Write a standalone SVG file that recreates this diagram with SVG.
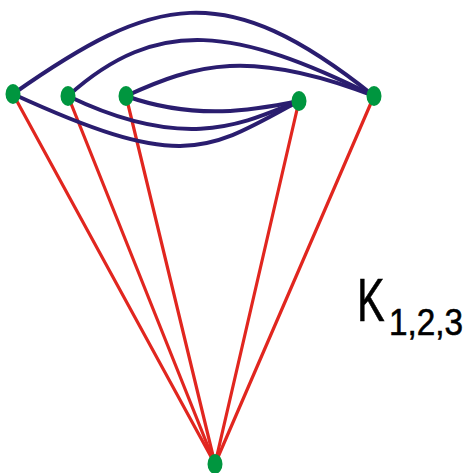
<svg xmlns="http://www.w3.org/2000/svg" width="469" height="473" viewBox="0 0 469 473">
<style>
.blue{fill:none;stroke:#2a1d6f;stroke-width:4;stroke-linecap:round}
.red{stroke:#e1261f;stroke-width:3.2;stroke-linecap:round}
.node{fill:#00963f}
.lbl{font-family:"Liberation Sans",Arial,sans-serif;fill:#000;stroke:#000;stroke-width:0.6}
</style>
<rect width="469" height="473" fill="#fff"/>
<g id="connectors">
<line class="red" x1="13" y1="94" x2="215" y2="464"/>
<line class="red" x1="68" y1="96" x2="215" y2="464"/>
<line class="red" x1="126" y1="96" x2="215" y2="464"/>
<line class="red" x1="299" y1="101" x2="215" y2="464"/>
<line class="red" x1="374" y1="96" x2="215" y2="464"/>
<path class="blue" d="M13,94 C154,-5 224,-24 374,96"/>
<path class="blue" d="M68,96 C158,15 237,28 374,96"/>
<path class="blue" d="M126,96 C196,64 250,48 374,96"/>
<path class="blue" d="M13,94 C183,172 206,152 299,101"/>
<path class="blue" d="M68,96 C188,154 246,122 299,101"/>
<path class="blue" d="M126,96 C196,121 255,110 299,101"/>
</g>
<g id="n1"><ellipse class="node" cx="13" cy="94" rx="7.5" ry="10"/></g>
<g id="n2"><ellipse class="node" cx="68" cy="96" rx="7.5" ry="10"/></g>
<g id="n3"><ellipse class="node" cx="126" cy="96" rx="7.5" ry="10"/></g>
<g id="n4"><ellipse class="node" cx="299" cy="101" rx="7.5" ry="10"/></g>
<g id="n5"><ellipse class="node" cx="374" cy="96" rx="7.5" ry="10"/></g>
<g id="n6"><ellipse class="node" cx="215" cy="464" rx="7.5" ry="10"/></g>
<g id="label">
<text class="lbl" font-size="61" transform="translate(357,321) scale(0.68,1)">K</text>
<text class="lbl" font-size="37" transform="translate(389,335) scale(0.9,1)">1,2,3</text>
</g>
</svg>
